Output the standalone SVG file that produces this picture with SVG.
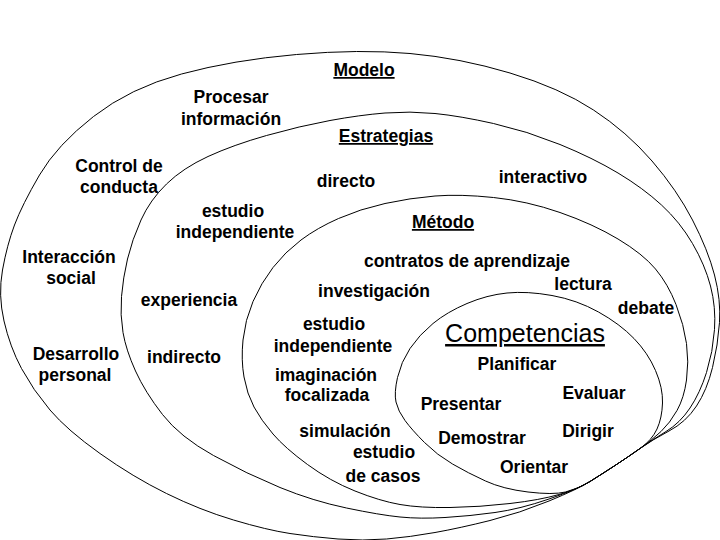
<svg xmlns="http://www.w3.org/2000/svg" width="720" height="540" viewBox="0 0 720 540">
<style>
.c{fill:none;stroke:#000;stroke-width:1}
text{font-family:"Liberation Sans",Arial,sans-serif;font-weight:bold;font-size:17.5px;fill:#000;text-anchor:middle}
.u{text-decoration:underline}
.big{font-weight:normal;font-size:25px}
</style>
<rect width="720" height="540" fill="#fff"/>
<g id="curves">
<path id="modelo-ring" class="c" d="M4,321 Q-2,295 2.5,270 Q7,245 14.5,225 Q22,205 39.5,175 Q57,145 93.5,116.5 Q130,88 181.5,74 Q233,60 296.5,54.5 Q360,49 410,53.5 Q460,58 510,73 Q560,88 593.5,110 Q627,132 652,161 Q677,190 692.5,220 Q708,250 714.5,275 Q721,300 719.5,322.5 Q718,345 712.5,367.5 Q707,390 696.5,406 Q686,422 669,431 Q652,440 640,448.5 Q628,457 615,465.5 Q602,474 590,481.5 Q578,489 549,501 Q520,513 490,520.5 Q460,528 435,532.5 Q410,537 386.5,539 Q363,541 338,539 Q313,537 290,533.5 Q267,530 233.5,520 Q200,510 166.5,493.5 Q133,477 100,453.5 Q67,430 50,410 Q33,390 21.5,368.5 Q10,347 4,321 Z"/>
<path id="estrategias-ring" class="c" d="M123,332.5 Q120,315 121.5,296.5 Q123,278 127.5,259 Q132,240 141,220 Q150,200 166.5,184 Q183,168 208,156.5 Q233,145 266.5,135.5 Q300,126 330,120.5 Q360,115 385,113 Q410,111 435,113.5 Q460,116 493.5,123.5 Q527,131 560,144.5 Q593,158 618,173 Q643,188 661.5,205 Q680,222 692.5,243.5 Q705,265 710.5,286 Q716,307 714.5,329.5 Q713,352 706.5,372.5 Q700,393 690,408 Q680,423 666,431.5 Q652,440 640,448.5 Q628,457 615,465.5 Q602,474 590,481.5 Q578,489 549,499 Q520,509 495,512.5 Q470,516 445,517.5 Q420,519 400,517 Q380,515 346.5,508 Q313,501 280,487.5 Q247,474 213.5,455.5 Q180,437 162.5,414.5 Q145,392 135.5,371 Q126,350 123,332.5 Z"/>
<path id="metodo-ring" class="c" d="M244,377 Q241,360 243,340 Q245,320 253,301.5 Q261,283 273,267.5 Q285,252 301,240 Q317,228 338.5,218.5 Q360,209 385,203.5 Q410,198 435,196 Q460,194 493.5,197.5 Q527,201 560,212.5 Q593,224 618,239 Q643,254 655.5,269 Q668,284 676,304.5 Q684,325 686.5,343.5 Q689,362 686.5,380 Q684,398 677,410.5 Q670,423 661,431.5 Q652,440 640,448.5 Q628,457 615,465.5 Q602,474 590,481.5 Q578,489 559,494.5 Q540,500 510,503.5 Q480,507 450,507.5 Q420,508 400,504.5 Q380,501 355,491 Q330,481 307.5,464.5 Q285,448 273,434 Q261,420 254,407 Q247,394 244,377 Z"/>
<path id="competencias-ring" class="c" d="M396,402 Q394,393 397.5,377.5 Q401,362 410,348.5 Q419,335 433,323.5 Q447,312 467,303.5 Q487,295 507,293 Q527,291 552,295.5 Q577,300 598.5,312 Q620,324 634,338.5 Q648,353 655.5,370.5 Q663,388 662.5,403 Q662,418 657,429 Q652,440 640,448.5 Q628,457 615,465.5 Q602,474 590,481.5 Q578,489 565.5,492 Q553,495 528,492 Q503,489 485.5,481 Q468,473 452.5,464 Q437,455 424.5,442.5 Q412,430 405,420.5 Q398,411 396,402 Z"/>
</g>
<g id="modelo">
<text class="u" x="364" y="76">Modelo</text>
<text x="231" y="103">Procesar</text>
<text x="231" y="125">información</text>
<text x="119" y="172">Control de</text>
<text x="119" y="193">conducta</text>
<text x="69" y="263">Interacción</text>
<text x="71" y="284">social</text>
<text x="76" y="360">Desarrollo</text>
<text x="75" y="381">personal</text>
</g>
<g id="estrategias">
<text class="u" x="386" y="142">Estrategias</text>
<text x="346" y="187">directo</text>
<text x="543" y="183">interactivo</text>
<text x="233" y="217">estudio</text>
<text x="235" y="238">independiente</text>
<text x="189" y="306">experiencia</text>
<text x="184" y="363">indirecto</text>
</g>
<g id="metodo">
<text class="u" x="443" y="228">Método</text>
<text x="467" y="267">contratos de aprendizaje</text>
<text x="583" y="290">lectura</text>
<text x="374" y="297">investigación</text>
<text x="646" y="314">debate</text>
<text x="334" y="330">estudio</text>
<text x="333" y="352">independiente</text>
<text x="326" y="381">imaginación</text>
<text x="327" y="401">focalizada</text>
<text x="345" y="437">simulación</text>
<text x="384" y="458">estudio</text>
<text x="383" y="482">de casos</text>
</g>
<g id="competencias">
<text class="u big" x="525" y="342">Competencias</text>
<text x="517" y="370">Planificar</text>
<text x="594" y="399">Evaluar</text>
<text x="461" y="410">Presentar</text>
<text x="482" y="444">Demostrar</text>
<text x="588" y="437">Dirigir</text>
<text x="534" y="473">Orientar</text>
</g>
</svg>
